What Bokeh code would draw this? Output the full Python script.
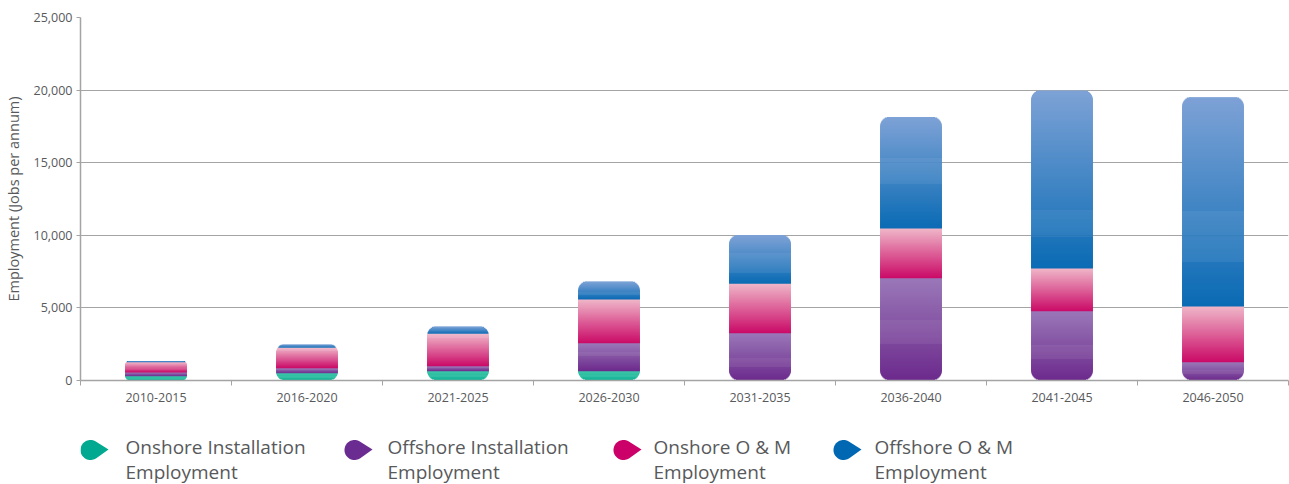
import math
from bokeh.plotting import figure
from bokeh.models import Range1d, FixedTicker, NumeralTickFormatter
from bokeh.layouts import column
from bokeh.embed import file_html
from bokeh.resources import INLINE
from bokeh.core.properties import value

# ---------------- data ----------------
periods = ["2010-2015", "2016-2020", "2021-2025", "2026-2030",
           "2031-2035", "2036-2040", "2041-2045", "2046-2050"]
onshore_installation = [300, 500, 640, 640, 0, 0, 0, 0]
offshore_installation = [250, 350, 345, 1930, 3250, 7050, 4770, 1260]
onshore_om = [700, 1400, 2230, 3010, 3420, 3420, 2940, 3830]
offshore_om = [100, 230, 500, 1240, 3350, 7670, 12260, 14420]
series_labels = ["Onshore Installation\nEmployment",
                 "Offshore Installation\nEmployment",
                 "Onshore O & M\nEmployment",
                 "Offshore O & M\nEmployment"]
y_ticks = [0, 5000, 10000, 15000, 20000, 25000]

# ---------------- styles ----------------
FONT = "Open Sans"
TEXT_COLOR = "#58595b"
GRID_COLOR = "#a4a4a4"
# (top colour, bottom colour) of each segment's gradient
gradients = [("#3fc6aa", "#0fb294"),
             ("#9a78b8", "#6c2a8c"),
             ("#efb6c8", "#ca0a67"),
             ("#7ea2d6", "#0a6bb4")]
legend_colors = ["#00a98f", "#6b2c91", "#cb0069", "#0068b3"]

FRAME_W, FRAME_H = 1208, 363
BORDER_L, BORDER_R, BORDER_T, BORDER_B = 80, 1, 17, 44
Y_MAX = y_ticks[-1]
UPP_Y = Y_MAX / FRAME_H            # data units per pixel (y)
UPP_X = len(periods) / FRAME_W     # data units per pixel (x)
BAR_W = 0.41
MAX_R = 10


def hex2rgb(h):
    h = h.lstrip("#")
    return tuple(int(h[i:i + 2], 16) for i in (0, 2, 4))


def mix(c_bottom, c_top, t):
    a, b = hex2rgb(c_bottom), hex2rgb(c_top)
    return "#%02x%02x%02x" % tuple(int(round(a[k] + (b[k] - a[k]) * t)) for k in range(3))


series = [onshore_installation, offshore_installation, onshore_om, offshore_om]

xs, ws, tops, bottoms, colors = [], [], [], [], []
for i, period in enumerate(periods):
    vals = [s[i] for s in series]
    total = sum(vals)
    h_px = total / UPP_Y
    r = min(MAX_R, h_px / 4.0)
    base = 0.0
    bands = []
    for j, v in enumerate(vals):
        if v <= 0:
            continue
        n = max(1, int(math.ceil(v / UPP_Y)))
        step = v / n
        top_c, bot_c = gradients[j]
        for k in range(n):
            b = base + k * step
            t = base + (k + 1) * step
            frac = (k + 0.5) / n
            bands.append((b, t, mix(bot_c, top_c, frac)))
        base += v
    for idx, (b, t, c) in enumerate(bands):
        yc = 0.5 * (b + t)
        d = min(yc, total - yc) / UPP_Y
        inset = 0.0
        if d < r:
            inset = r - math.sqrt(max(0.0, r * r - (r - d) ** 2))
        t_ext = t + 0.6 * UPP_Y if idx < len(bands) - 1 else t
        xs.append(i + 0.5)
        ws.append(BAR_W - 2 * inset * UPP_X)
        bottoms.append(b)
        tops.append(t_ext)
        colors.append(c)

p = figure(frame_width=FRAME_W, frame_height=FRAME_H,
           x_range=Range1d(0, len(periods)), y_range=Range1d(0, Y_MAX),
           toolbar_location=None, output_backend="svg",
           min_border_left=BORDER_L, min_border_right=BORDER_R,
           min_border_top=BORDER_T, min_border_bottom=BORDER_B)
p.outline_line_color = None
p.background_fill_color = "white"

p.vbar(x=xs, width=ws, top=tops, bottom=bottoms, fill_color=colors,
       line_color=None)

# axes
p.xaxis.ticker = FixedTicker(ticks=[i + 0.5 for i in range(len(periods))],
                             minor_ticks=list(range(len(periods) + 1)))
p.xaxis.major_label_overrides = {i + 0.5: lab for i, lab in enumerate(periods)}
p.xaxis.major_tick_line_color = None
p.xaxis.major_tick_out = 0
p.xaxis.major_tick_in = 0
p.xaxis.minor_tick_out = 5
p.xaxis.minor_tick_in = 0
p.xaxis.minor_tick_line_color = GRID_COLOR
p.xaxis.major_label_standoff = 7
p.xaxis.major_label_text_font = FONT
p.xaxis.major_label_text_font_size = "12.5px"
p.xaxis.major_label_text_color = TEXT_COLOR
p.xaxis.axis_line_color = GRID_COLOR
p.xaxis.axis_line_width = 1.5

p.yaxis.ticker = FixedTicker(ticks=y_ticks)
p.yaxis.formatter = NumeralTickFormatter(format="0,0")
p.yaxis.minor_tick_line_color = None
p.yaxis.major_tick_out = 4
p.yaxis.major_tick_in = 0
p.yaxis.major_tick_line_color = GRID_COLOR
p.yaxis.major_label_standoff = 4
p.yaxis.major_label_text_font = FONT
p.yaxis.major_label_text_font_size = "12.5px"
p.yaxis.major_label_text_color = TEXT_COLOR
p.yaxis.axis_line_color = GRID_COLOR
p.yaxis.axis_line_width = 1.5
p.yaxis.axis_label = "Employment (Jobs per annum)"
p.yaxis.axis_label_text_font = FONT
p.yaxis.axis_label_text_font_size = "14.5px"
p.yaxis.axis_label_text_font_style = "normal"
p.yaxis.axis_label_text_color = TEXT_COLOR
p.yaxis.axis_label_standoff = 8

p.xgrid.grid_line_color = None
p.ygrid.ticker = FixedTicker(ticks=y_ticks)
p.ygrid.grid_line_color = GRID_COLOR
p.ygrid.grid_line_width = 1

# ---------------- legend (separate strip, pixel-like coordinates) ----------------
MAIN_H = BORDER_T + FRAME_H + BORDER_B
LEG_TOP, LEG_BOTTOM = MAIN_H, 484
leg = figure(frame_width=FRAME_W, frame_height=LEG_BOTTOM - LEG_TOP,
             x_range=Range1d(BORDER_L, BORDER_L + FRAME_W),
             y_range=Range1d(LEG_BOTTOM, LEG_TOP),
             x_axis_type=None, y_axis_type=None,
             toolbar_location=None, output_backend="svg",
             min_border_left=BORDER_L, min_border_right=BORDER_R,
             min_border_top=0, min_border_bottom=0)
leg.grid.visible = False
leg.outline_line_color = None

marker_cx = [90, 354, 623, 843]
text_x = [125, 387, 653, 874]
R, CY, TIP_DX, TIP_DY = 10, 449.5, 18, -0.5


def teardrop(cx, cy):
    tx, ty = cx + TIP_DX, cy + TIP_DY
    dx, dy = tx - cx, ty - cy
    dist = math.hypot(dx, dy)
    base_ang = math.atan2(dy, dx)
    half = math.acos(R / dist)
    a0 = base_ang + half
    a1 = base_ang - half + 2 * math.pi
    pxs, pys = [tx], [ty]
    N = 40
    for k in range(N + 1):
        a = a0 + (a1 - a0) * k / N
        pxs.append(cx + R * math.cos(a))
        pys.append(cy + R * math.sin(a))
    return pxs, pys


pxs_all, pys_all = [], []
for cx in marker_cx:
    a, b = teardrop(cx, CY)
    pxs_all.append(a)
    pys_all.append(b)
leg.patches(xs=pxs_all, ys=pys_all, fill_color=legend_colors, line_color=None)

line1 = [lab.split("\n")[0] for lab in series_labels]
line2 = [lab.split("\n")[1] for lab in series_labels]
leg.text(x=text_x, y=[446] * 4, text=line1, text_font=value(FONT),
         text_font_size="19px", text_color=TEXT_COLOR, text_baseline="alphabetic")
leg.text(x=text_x, y=[471] * 4, text=line2, text_font=value(FONT),
         text_font_size="19px", text_color=TEXT_COLOR, text_baseline="alphabetic")

layout = column(p, leg, spacing=0)
open("out.html", "w").write(file_html(layout, INLINE))
